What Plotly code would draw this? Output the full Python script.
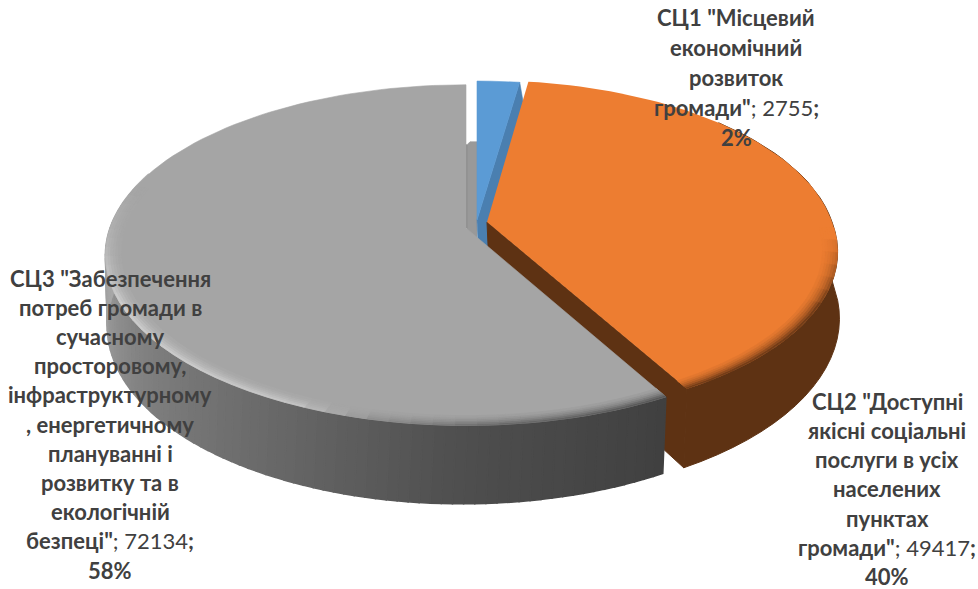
import math
import plotly.graph_objects as go

# ---- data
names = ['СЦ1 "Місцевий економічний розвиток громади"',
         'СЦ2 "Доступні якісні соціальні послуги в усіх населених пунктах громади"',
         'СЦ3 "Забезпечення потреб громади в сучасному просторовому, інфраструктурному, енергетичному плануванні і розвитку та в екологічній безпеці"']
values = [2755, 49417, 72134]
percents = ["2%", "40%", "58%"]
label_lines_1 = ['<b>СЦ1 "Місцевий</b>', '<b>економічний</b>', '<b>розвиток</b>',
                 '<b>громади"</b>; 2755<b>;</b>', '<b>2%</b>']
label_lines_2 = ['<b>СЦ2 "Доступні</b>', '<b>якісні соціальні</b>', '<b>послуги в усіх</b>',
                 '<b>населених</b>', '<b>пунктах</b>', '<b>громади"</b>; 49417<b>;</b>', '<b>40%</b>']
label_lines_3 = ['<b>СЦ3 "Забезпечення</b>', '<b>потреб громади в</b>', '<b>сучасному</b>',
                 '<b>просторовому,</b>', '<b>інфраструктурному</b>', '<b>, енергетичному</b>',
                 '<b>плануванні і</b>', '<b>розвитку та в</b>', '<b>екологічній</b>',
                 '<b>безпеці"</b>; 72134<b>;</b>', '<b>58%</b>']

# ---- projection settings (drawing only)
K = 0.159
W, HGT = 978, 589
total = sum(values)
edges = [0]
for v in values:
    edges.append(edges[-1] + v / total * 360)

BLUE = dict(cx=477, cy=220, A=356, B=161, shear=0, H=66)
ORANGE = dict(cx=487, cy=222, A=345, B=164, shear=7, H=68)
GRAY = dict(cx=466, cy=228, A=356, B=166, shear=0, H=66)


def top(p, deg, r=1.0):
    t = math.radians(deg)
    X, Z = r * math.sin(t), r * math.cos(t)
    s = 1 / (1 + K * Z)
    return p["cx"] + p["A"] * X * s + p["shear"] * max(0, -Z), p["cy"] - p["B"] * Z * s


def bottom(p, deg, r=1.0):
    t = math.radians(deg)
    Z = r * math.cos(t)
    s = 1 / (1 + K * Z)
    x, y = top(p, deg, r)
    return x + 3 + 7 * Z, y + p["H"] * s


def apex_bottom(p):
    return p["cx"] + 3, p["cy"] + p["H"]


def arange(a, b, step):
    n = max(1, int(abs(b - a) / step))
    return [a + (b - a) * i / n for i in range(n + 1)]


def hex2(c):
    return tuple(int(c[i:i + 2], 16) for i in (1, 3, 5))


def mix(c1, c2, f):
    a, b = hex2(c1), hex2(c2)
    return "#%02x%02x%02x" % tuple(round(a[i] + (b[i] - a[i]) * f) for i in range(3))


def ramp(stops, v):
    for (v0, c0), (v1, c1) in zip(stops, stops[1:]):
        if v <= v1:
            return mix(c0, c1, max(0, (v - v0) / (v1 - v0)))
    return stops[-1][1]


fig = go.Figure()


def poly(pts, color, lw=0.6):
    fig.add_trace(go.Scatter(
        x=[q[0] for q in pts] + [pts[0][0]], y=[q[1] for q in pts] + [pts[0][1]],
        mode="lines", fill="toself", fillcolor=color,
        line=dict(color=color, width=lw), hoverinfo="skip", showlegend=False))


# gray far radial wall
g0 = top(GRAY, 0)
poly([(GRAY["cx"] + 1, GRAY["cy"]), (GRAY["cx"] + 1, g0[1] + 60), (GRAY["cx"] + 4, g0[1] + 57),
      (GRAY["cx"] + 11, g0[1] + 57), (GRAY["cx"] + 11, GRAY["cy"] + 30), (GRAY["cx"] + 1, GRAY["cy"] + 30)],
     "#999999")
poly([(GRAY["cx"], GRAY["cy"]), (GRAY["cx"], g0[1] + 60), (GRAY["cx"] + 1, g0[1] + 60), (GRAY["cx"] + 1, GRAY["cy"])],
     "#8c8c8c")

# blue slice
b1 = edges[0], edges[1]
poly([(BLUE["cx"], BLUE["cy"]), top(BLUE, b1[1]), bottom(BLUE, b1[1]), apex_bottom(BLUE)], "#4a7fb0")
poly([(BLUE["cx"], BLUE["cy"])] + [top(BLUE, a) for a in arange(b1[0], b1[1], 2)], "#5b9bd5")

# orange slice
o1 = edges[1], edges[2]
wall = [top(ORANGE, a) for a in arange(o1[0] + 40, o1[1], 3)]
wall += [bottom(ORANGE, a) for a in arange(o1[1], o1[0] + 40, 3)]
poly(wall, "#5e3213", 1.0)
poly([(ORANGE["cx"], ORANGE["cy"]), top(ORANGE, o1[1]), bottom(ORANGE, o1[1]), apex_bottom(ORANGE)], "#5e3213", 1.0)
poly([(ORANGE["cx"], ORANGE["cy"])] + [top(ORANGE, a) for a in arange(o1[0], o1[1], 2)], "#ed7d31", 0)
radii = [1.0, 0.993, 0.986, 0.979, 0.972, 0.965, 0.958]
falloff = [0.85, 0.65, 0.45, 0.3, 0.18, 0.08]
ang = arange(92, o1[1], 4)
for a0, a1 in zip(ang, ang[1:]):
    w = min(1, (a0 - 92) / 25)
    for r0, r1, f in zip(radii, radii[1:], falloff):
        poly([top(ORANGE, a0, r0), top(ORANGE, a1, r0), top(ORANGE, a1, r1), top(ORANGE, a0, r1)],
             mix("#ed7d31", "#5e3213", f * w), 0.6)

# gray slice
g1 = edges[2], edges[3]
wall_stops = [(g1[0], "#404040"), (180, "#4e4e4e"), (205, "#666666"), (235, "#808080"), (262, "#a0a0a0"), (285, "#b5b5b5")]
ang = arange(g1[0], 290, 1.5)
for a0, a1 in zip(ang, ang[1:]):
    poly([top(GRAY, a0), top(GRAY, a1), bottom(GRAY, a1), bottom(GRAY, a0)], ramp(wall_stops, (a0 + a1) / 2), 1.5)
poly([(GRAY["cx"], GRAY["cy"])] + [top(GRAY, a) for a in arange(g1[0], g1[1], 2)], "#a5a5a5")
rim_stops = [(g1[0], "#484848"), (175, "#606060"), (192, "#8a8a8a"), (205, "#cccccc"), (245, "#d4d4d4"), (268, "#b4b4b4"), (285, "#a5a5a5")]
ang = arange(g1[0], 285, 3)
for a0, a1 in zip(ang, ang[1:]):
    edge = ramp(rim_stops, (a0 + a1) / 2)
    for r0, r1, f in zip(radii, radii[1:], falloff):
        poly([top(GRAY, a0, r0), top(GRAY, a1, r0), top(GRAY, a1, r1), top(GRAY, a0, r1)],
             mix("#a5a5a5", edge, f), 0.8)

# ---- labels
FONT = "Lato"


def label(lines, x, y0, dy):
    for i, t in enumerate(lines):
        fig.add_annotation(x=x, y=y0 + i * dy, text=t, showarrow=False, xanchor="center", yanchor="middle",
                           font=dict(family=FONT, size=22, color="#404040"))


label(label_lines_1, 736, 17, 30)
label(label_lines_2, 887, 401, 29.3)
label(label_lines_3, 110, 278, 29.2)

fig.update_layout(
    width=W, height=HGT, margin=dict(l=0, r=0, t=0, b=0),
    paper_bgcolor="white", plot_bgcolor="white", showlegend=False,
    xaxis=dict(range=[0, W], visible=False, fixedrange=True),
    yaxis=dict(range=[HGT, 0], visible=False, fixedrange=True),
)
fig.write_html("out.html", config={"displayModeBar": False},
               post_script="document.body.style.margin='0';document.body.style.overflow='hidden';")
